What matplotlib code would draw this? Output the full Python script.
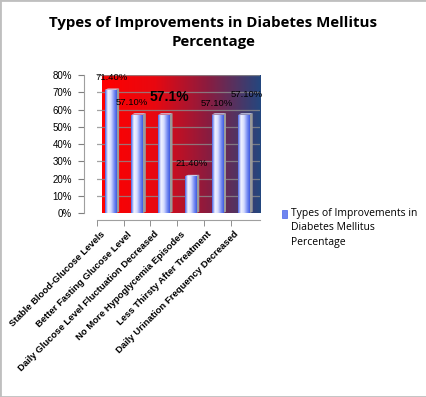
import numpy as np
import matplotlib.pyplot as plt
from matplotlib import font_manager
from matplotlib.colors import LinearSegmentedColormap
from matplotlib.patches import Polygon, Rectangle
from matplotlib.transforms import ScaledTranslation

categories = ['Stable Blood-Glucose Levels', 'Better Fasting Glucose Level',
              'Daily Glucose Level Fluctuation Decreased', 'No More Hypoglycemia Episodes',
              'Less Thirsty After Treatment', 'Daily Urination Frequency Decreased']
values = [71.4, 57.1, 57.1, 21.4, 57.1, 57.1]
value_labels = ['71.40%', '57.10%', '57.1%', '21.40%', '57.10%', '57.10%']
yticks = [0, 10, 20, 30, 40, 50, 60, 70, 80]
series_name = 'Types of Improvements in\nDiabetes Mellitus\nPercentage'

plt.rcParams['font.family'] = ['Liberation Sans', 'DejaVu Sans']

# condensed bold font for category labels if there is one
try:
    font_manager.findfont('Liberation Sans Narrow', fallback_to_default=False)
    cat_font, cat_size = 'Liberation Sans Narrow', 9.2
except ValueError:
    cat_font, cat_size = 'Liberation Sans', 6.8

fig = plt.figure(figsize=(4.27, 3.97), dpi=100)
fig.patches.append(Rectangle((0, 0), 1, 1, transform=fig.transFigure, fill=False,
                             edgecolor='#BFBFBF', linewidth=2))
ax = fig.add_axes([0.227, 0.463, 0.383, 0.348])

# spines first: moving them resets the ticks
ax.spines['left'].set_position(('outward', 9))
ax.spines['bottom'].set_position(('outward', 5))
for s in ['left', 'bottom']:
    ax.spines[s].set_color('#9F9F9F')
for s in ['top', 'right']:
    ax.spines[s].set_visible(False)

x = np.arange(len(categories))
ax.set_xlim(-0.32, 5.62)
ax.set_ylim(0, 80)

# wall gradient red -> navy
wall = LinearSegmentedColormap.from_list('wall', ['#FF0000', '#E80810', '#8A1C40', '#23477F'])
ax.imshow(np.linspace(0, 1, 256)[None, :], cmap=wall, aspect='auto',
          extent=(-0.32, 5.62, 0, 80), zorder=0)

for t in yticks[1:]:
    ax.axhline(t, color='#8C8C8C', linewidth=0.9, alpha=0.8, zorder=1)

# bars with horizontal gradient + grey side face
barcm = LinearSegmentedColormap.from_list('bar', ['#4A63E6', '#F2F4FF', '#D6DDFF', '#8094F5', '#3F5AE0'])
w = 0.42
bars = ax.bar(x, values, width=w, color='none', zorder=3)
grad = np.linspace(0, 1, 64)[None, :]
for b, v in zip(bars, values):
    x0 = b.get_x()
    im = ax.imshow(grad, cmap=barcm, aspect='auto', extent=(x0, x0 + w, 0, v), zorder=3)
    im.set_clip_path(b)
    side = Polygon([(x0 + w, 0), (x0 + w + 0.12, 0.8), (x0 + w + 0.12, v + 0.8), (x0 + w, v)],
                   closed=True, facecolor='#9A9A9A', edgecolor='none', zorder=2.9)
    ax.add_patch(side)
    top = Polygon([(x0, v), (x0 + w, v), (x0 + w + 0.12, v + 0.8), (x0 + 0.12, v + 0.8)],
                  closed=True, facecolor='#C9CEEA', edgecolor='none', zorder=2.9)
    ax.add_patch(top)

# data labels
offsets = [(0.05, 4.6), (-0.2, 4.4), (0.2, 6.0), (0.05, 5.0), (0.0, 4.0), (0.1, 9.0)]
for i, (v, lab) in enumerate(zip(values, value_labels)):
    dx, dy = offsets[i]
    big = (i == 2)
    ax.text(x[i] + dx, v + dy, lab, ha='center', va='bottom',
            fontsize=10 if big else 6.8, fontweight='bold' if big else 'normal',
            color='black', zorder=5)

ax.set_yticks(yticks)
ax.set_yticklabels([f'{t}%' for t in yticks])
ax.tick_params(axis='y', length=4, pad=5, color='#7F7F7F', labelsize=7)

ax.set_xticks(x - 0.5, minor=True)
ax.set_xticks(x)
ax.tick_params(axis='x', which='minor', length=4, color='#7F7F7F')
ax.tick_params(axis='x', which='major', length=0, pad=7)
ax.set_xticklabels(categories, rotation=45, ha='right', rotation_mode='anchor',
                   fontsize=cat_size, fontweight='bold', family=[cat_font, 'DejaVu Sans'])
shift = ScaledTranslation(-10 / 100, 0, fig.dpi_scale_trans)
for lbl in ax.get_xticklabels():
    lbl.set_transform(lbl.get_transform() + shift)

# legend marker + text
fig.patches.append(Rectangle((0.66, 0.45), 0.012, 0.02, transform=fig.transFigure,
                             facecolor='#6F85F0', edgecolor='#4A63E6', linewidth=0.5))
fig.text(0.682, 0.477, series_name, fontsize=7.5, va='top', ha='left',
         family=['Open Sans', 'DejaVu Sans'], linespacing=1.45)

fig.suptitle('Types of Improvements in Diabetes Mellitus\nPercentage', y=0.96,
             fontsize=10.8, fontweight='bold', family=['Open Sans', 'DejaVu Sans'],
             linespacing=1.45)

fig.savefig('out.png', dpi=100)
